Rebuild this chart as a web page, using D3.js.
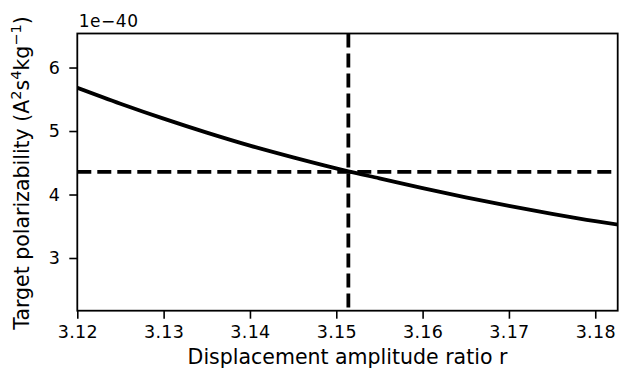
<!DOCTYPE html>
<html><head><meta charset="utf-8">
<script src="https://cdn.jsdelivr.net/npm/d3@7"></script>
<style>body{margin:0;background:#fff}svg{display:block}text{font-family:"DejaVu Sans",sans-serif;fill:#000}</style>
</head><body>
<svg id="c" width="619" height="379"></svg>
<script>
const rValues = [3.12, 3.125, 3.13, 3.135, 3.14, 3.145, 3.1514, 3.155, 3.16, 3.165, 3.17, 3.175, 3.18, 3.1827];
const alphaValues = [5.68, 5.43, 5.195, 4.975, 4.77, 4.585, 4.365, 4.255, 4.10, 3.955, 3.82, 3.695, 3.58, 3.525];
const xTickValues = [3.12, 3.13, 3.14, 3.15, 3.16, 3.17, 3.18];
const yTickValues = [3, 4, 5, 6];
const rMarker = [3.1514];
const alphaMarker = [4.355];
const xDomain = [3.12, 3.1826];
const yDomain = [2.17, 6.536];

const L = 77.3, R = 617.7, T = 33.5, B = 310.7;
const svg = d3.select("#c");
const x = d3.scaleLinear().domain(xDomain).range([L, R]);
const y = d3.scaleLinear().domain(yDomain).range([B, T]);

svg.append("clipPath").attr("id","clip").append("rect")
  .attr("x",L).attr("y",T).attr("width",R-L).attr("height",B-T);
const g = svg.append("g").attr("clip-path","url(#clip)");

const pts = rValues.map((r,i)=>[r, alphaValues[i]]);
g.append("path").datum(pts)
  .attr("fill","none").attr("stroke","#000").attr("stroke-width",3.8)
  .attr("d", d3.line().x(d=>x(d[0])).y(d=>y(d[1])).curve(d3.curveMonotoneX));

g.selectAll("line.h").data(alphaMarker).join("line").attr("class","h")
  .attr("x1",L).attr("x2",R).attr("y1",d=>y(d)).attr("y2",d=>y(d))
  .attr("stroke","#000").attr("stroke-width",3.8).attr("stroke-dasharray","14,6");
g.selectAll("line.v").data(rMarker).join("line").attr("class","v")
  .attr("x1",d=>x(d)).attr("x2",d=>x(d)).attr("y1",T).attr("y2",B)
  .attr("stroke","#000").attr("stroke-width",3.8).attr("stroke-dasharray","14,6");

const xAxis = d3.axisBottom(x).tickValues(xTickValues).tickFormat(d3.format(".2f")).tickSizeInner(8).tickSizeOuter(0).tickPadding(7);
const yAxis = d3.axisLeft(y).tickValues(yTickValues).tickFormat(d3.format("d")).tickSizeInner(8).tickSizeOuter(0).tickPadding(9);
const gx = svg.append("g").attr("transform",`translate(0,${B})`).call(xAxis);
const gy = svg.append("g").attr("transform",`translate(${L},0)`).call(yAxis);
[gx,gy].forEach(a=>{
  a.select(".domain").remove();
  a.selectAll(".tick line").attr("stroke","#000").attr("stroke-width",1.6);
  a.selectAll(".tick text").style("font-family","DejaVu Sans").style("font-size","17.5px")
    .style("letter-spacing","0.3px").attr("fill","#000");
});

svg.append("rect").attr("x",L).attr("y",T).attr("width",R-L).attr("height",B-T)
  .attr("fill","none").attr("stroke","#000").attr("stroke-width",1.8);

svg.append("text").attr("x",L+1.5).attr("y",26.7).style("font-size","17px")
  .style("letter-spacing","0.5px").text("1e\u221240");

svg.append("text").attr("x",(L+R)/2).attr("y",364).attr("text-anchor","middle")
  .style("font-size","20.5px").text("Displacement amplitude ratio r");

const yl = svg.append("text").attr("transform",`translate(29,173) rotate(-90)`)
  .attr("text-anchor","middle").style("font-size","20.5px");
yl.append("tspan").text("Target polarizability (A");
yl.append("tspan").attr("dy",-8).style("font-size","14.5px").text("2");
yl.append("tspan").attr("dy",8).text("s");
yl.append("tspan").attr("dy",-8).style("font-size","14.5px").text("4");
yl.append("tspan").attr("dy",8).text("kg");
yl.append("tspan").attr("dy",-8).style("font-size","14.5px").text("\u22121");
yl.append("tspan").attr("dy",8).text(")");
</script>
</body></html>
